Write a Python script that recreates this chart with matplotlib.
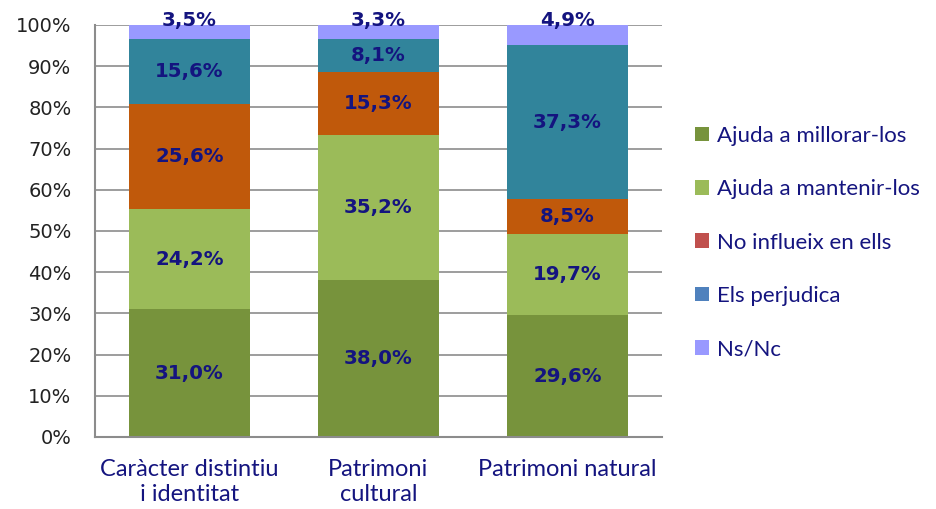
import matplotlib.pyplot as plt
import numpy as np
from matplotlib.patches import Patch

categories = ["Caràcter distintiu\ni identitat", "Patrimoni\ncultural", "Patrimoni natural"]
series_names = ["Ajuda a millorar-los", "Ajuda a mantenir-los", "No influeix en ells",
                "Els perjudica", "Ns/Nc"]
millorar = [31.0, 38.0, 29.6]
mantenir = [24.2, 35.2, 19.7]
no_influeix = [25.6, 15.3, 8.5]
perjudica = [15.6, 8.1, 37.3]
nsnc = [3.5, 3.3, 4.9]

bar_colors = ["#77933C", "#9BBB59", "#C0590B", "#31849B", "#9999FF"]
legend_colors = ["#77933C", "#9BBB59", "#C0504D", "#4F81BD", "#9999FF"]
navy = "#14147F"

values = np.array([millorar, mantenir, no_influeix, perjudica, nsnc])
shares = values / values.sum(axis=0) * 100

fig = plt.figure(figsize=(9.37, 5.09), dpi=100)
ax = fig.add_axes([0.1014, 0.1415, 0.605, 0.8094])

x = np.arange(len(categories))
bottom = np.zeros(len(categories))
for i, name in enumerate(series_names):
    ax.bar(x, shares[i], bottom=bottom, width=0.64, color=bar_colors[i], zorder=2)
    for j in range(len(categories)):
        # top (Ns/Nc) labels sit on the 100% line, like Excel does
        if i == len(series_names) - 1:
            y = 101.2
        else:
            y = bottom[j] + shares[i][j] / 2
        ax.text(x[j], y, f"{values[i][j]:.1f}%".replace(".", ","), ha="center", va="center",
                color=navy, fontsize=14.2, fontweight="bold", zorder=3)
    bottom += shares[i]

ax.set_xlim(-0.5, 2.5)
ax.set_ylim(0, 100)
ax.set_yticks(np.arange(0, 101, 10))
ax.set_yticklabels([f"{v}%" for v in range(0, 101, 10)], fontsize=14, color="#222222")
ax.set_xticks(x)
ax.set_xticklabels(categories, fontsize=17, color=navy, family="Lato", linespacing=1.25)
ax.tick_params(axis="y", length=0, pad=17)
ax.tick_params(axis="x", length=0, pad=16)
ax.grid(axis="y", color="#8C8C8C", linewidth=1.2, zorder=0)
for side in ["top", "right"]:
    ax.spines[side].set_visible(False)
for side in ["left", "bottom"]:
    ax.spines[side].set_color("#8C8C8C")
    ax.spines[side].set_linewidth(1.5)

handles = [Patch(facecolor=c) for c in legend_colors]
leg = fig.legend(handles, series_names, loc="upper left", bbox_to_anchor=(0.72, 0.792),
                 frameon=False, handlelength=0.65, handleheight=0.65, handletextpad=0.35,
                 labelspacing=1.5, prop={"family": "Lato", "size": 16})
for t in leg.get_texts():
    t.set_color(navy)

fig.savefig("out.png", dpi=100)
